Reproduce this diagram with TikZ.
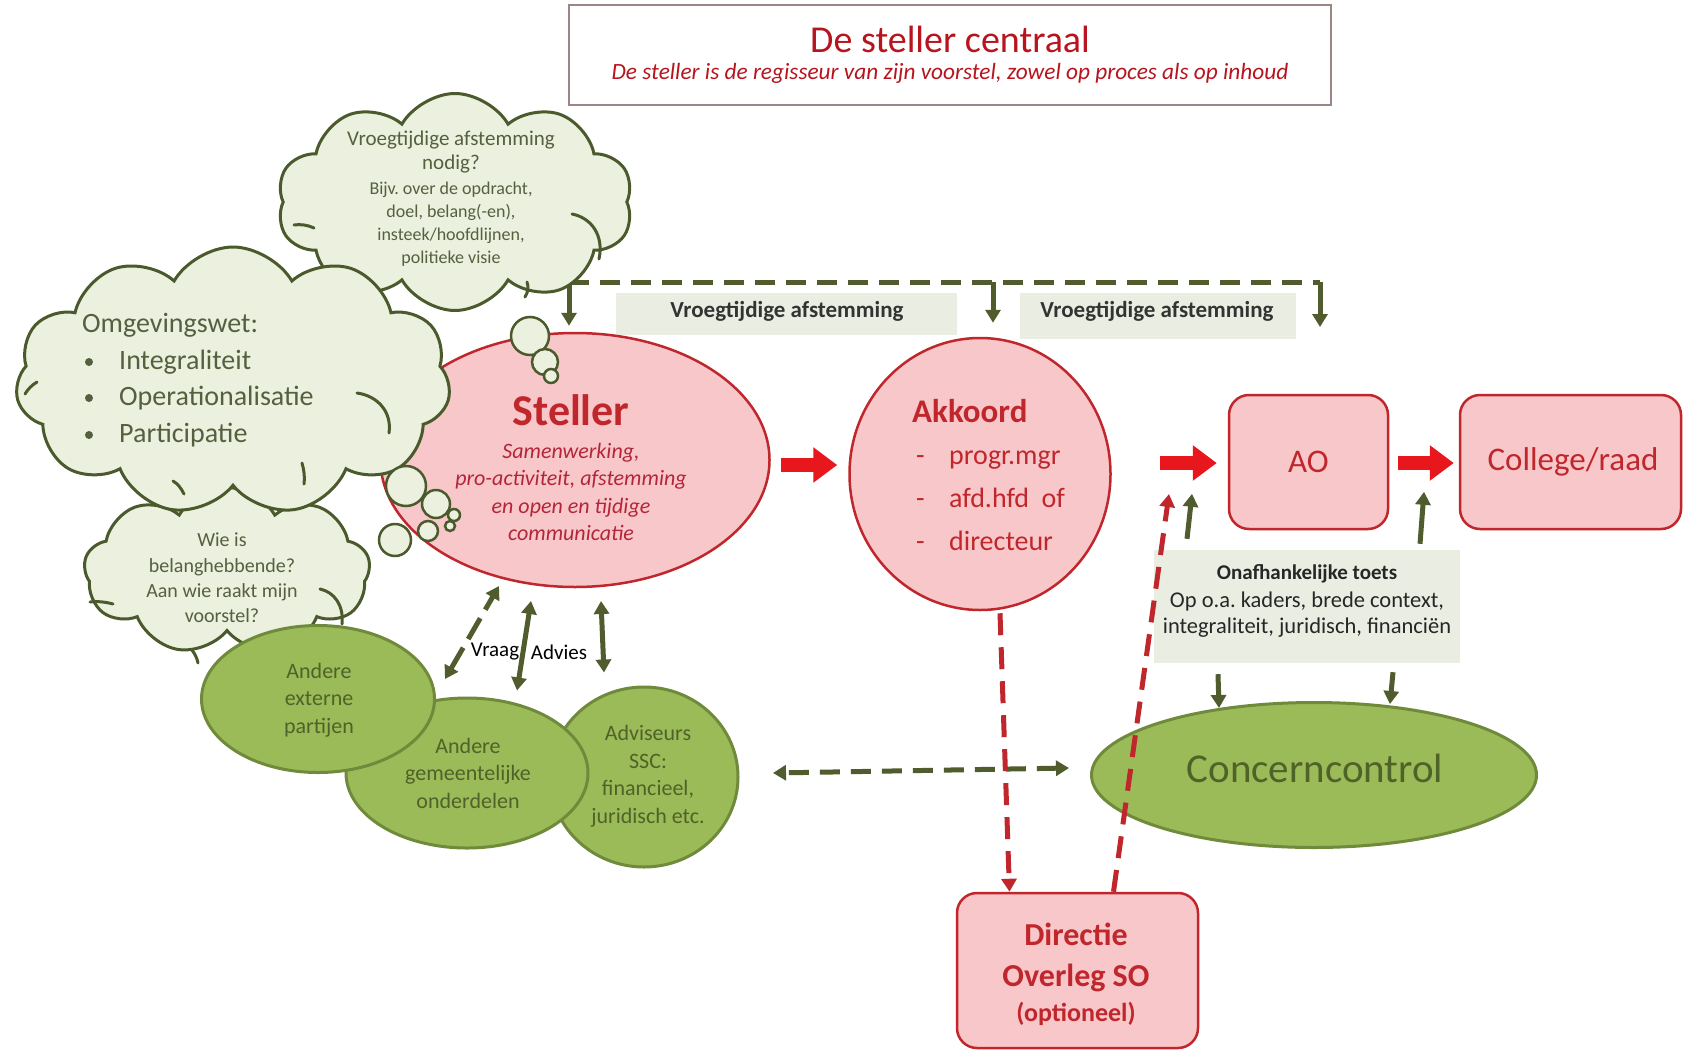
\documentclass[tikz,border=0pt]{standalone}
\usepackage{fontspec}
\setmainfont{Carlito}
\usetikzlibrary{shapes.geometric,shapes.symbols,arrows.meta,calc}

\definecolor{cred}{HTML}{C0272D}
\definecolor{ctitle}{HTML}{B8141E}
\definecolor{cpink}{HTML}{F8C7CA}
\definecolor{cgfill}{HTML}{9BBB59}
\definecolor{cgline}{HTML}{6F8A3A}
\definecolor{cgtext}{HTML}{4F6228}
\definecolor{cloudfill}{HTML}{EBF0DF}
\definecolor{cloudline}{HTML}{4B5A2C}
\definecolor{cloudtext}{HTML}{55603F}
\definecolor{garrow}{HTML}{505B2E}
\definecolor{boxfill}{HTML}{EAEEE2}
\definecolor{blockred}{HTML}{E8161D}
\definecolor{titleline}{HTML}{9C8585}
\definecolor{steltext}{HTML}{B3263A}

\newcommand\fsz[2]{\fontsize{#1pt}{#2pt}\selectfont}

\begin{document}
\begin{tikzpicture}[x=1pt,y=-1pt,
  pinkoval/.style={ellipse, draw=cred, fill=cpink, line width=2.5pt, inner sep=0pt},
  pinkbox/.style={rectangle, rounded corners=20pt, draw=cred, fill=cpink, line width=2.5pt, inner sep=0pt},
  greenoval/.style={ellipse, draw=cgline, fill=cgfill, line width=3pt, inner sep=0pt},
  thought/.style={cloud, draw=cloudline, fill=cloudfill, line width=3pt, cloud puffs=10, cloud puff arc=120, inner sep=0pt},
  fold/.style={draw=cloudline, line width=3pt, line cap=round},
  bubble/.style={circle, draw=cloudline, fill=cloudfill, line width=2.5pt, inner sep=0pt},
  greybox/.style={rectangle, fill=boxfill, inner sep=0pt},
  lbl/.style={inner sep=0pt, align=center},
  gtext/.style={lbl, text=cgtext, font=\fsz{22}{27.5}},
  ctext/.style={lbl, text=cloudtext},
  garr/.style={draw=garrow, line width=5pt, -{Triangle[width=15pt,length=13pt]}},
  gdash/.style={draw=garrow, line width=5pt, dash pattern=on 20pt off 11pt},
  rdash/.style={draw=cred, line width=5pt, dash pattern=on 22pt off 12pt, -{Triangle[width=15pt,length=13pt]}},
  blockarr/.style={draw=blockred, line width=14pt, -{Triangle[width=34pt,length=24pt]}},
  dot/.style={circle, fill=cloudtext, inner sep=0pt, minimum size=8pt}
]
\useasboundingbox (0,0) rectangle (1683,1052);
\fill[white] (0,0) rectangle (1683,1052);

% heading
\node[rectangle, draw=titleline, line width=1.5pt, fill=white, minimum width=762pt, minimum height=100pt] (title) at (950,55) {};
\node[lbl, text=ctitle, font=\fsz{38}{40}] (titletxt) at (950,39) {De steller centraal};
\node[lbl, text=ctitle, font=\fsz{23.3}{26}\itshape] (subtxt) at (950,73) {De steller is de regisseur van zijn voorstel, zowel op proces als op inhoud};

% early alignment line along the top
\coordinate (dl) at (569,282);
\coordinate (dm) at (993,282);
\coordinate (dr) at (1320,282);
\coordinate (drend) at (1320,327);
\draw[gdash] (dl) -- (dr);

\node[greybox, minimum width=341pt, minimum height=42pt] (vroeg1) at (786,314) {};
\node[lbl, font=\fsz{23}{26}\bfseries, text=black!80] (vroeg1txt) at (787,311) {Vroegtijdige afstemming};
\node[greybox, minimum width=276pt, minimum height=46pt] (vroeg2) at (1158,316) {};
\node[lbl, font=\fsz{23}{26}\bfseries, text=black!80] (vroeg2txt) at (1157,311) {Vroegtijdige afstemming};

% main process nodes
\node[pinkoval, minimum width=389pt, minimum height=254pt] (steller) at (575,460) {};
\node[pinkoval, minimum width=261pt, minimum height=272pt] (akk) at (980,474) {};
\node[pinkbox, minimum width=159pt, minimum height=134pt] (ao) at (1308.5,462) {};
\node[pinkbox, minimum width=221pt, minimum height=134pt] (college) at (1570.5,462) {};
\node[greybox, minimum width=306pt, minimum height=113pt] (onaf) at (1307,606.5) {};
\node[greenoval, minimum width=445pt, minimum height=145pt] (concern) at (1314,775) {};
\node[pinkbox, minimum width=241pt, minimum height=155pt] (dir) at (1077.5,970.5) {};

\draw[garr] (dl) -- ($(steller.north)+(-6,-6)$);
\draw[garr] (dm) -- ($(akk.north)+(13,-14)$);
\draw[garr] (dr) -- (drend);

\node[lbl, text=cred, font=\fsz{44}{48}\bfseries] (stellertitle) at (571,410) {Steller};
\node[lbl, text=steltext, font=\fsz{22}{27.3}\itshape] (stellertxt) at (571,492) {Samenwerking,\\pro-activiteit, afstemming\\en open en tijdige\\communicatie};

\node[lbl, anchor=west, text=cred, font=\fsz{33}{36}\bfseries] (akktitle) at (912,411) {Akkoord};
\node[lbl, anchor=west, align=left, text=cred, font=\fsz{28}{43}] (akkitems) at (916,501)
  {\makebox[33pt][l]{-}progr.mgr\\\makebox[33pt][l]{-}afd.hfd\ \ of\\\makebox[33pt][l]{-}directeur};

\node[lbl, text=cred, font=\fsz{33}{36}] (aotxt) at (1308.5,462) {AO};
\node[lbl, text=cred, font=\fsz{33}{36}] (collegetxt) at (1573,462) {College/raad};

\node[lbl, font=\fsz{21}{24}\bfseries, text=black!85] (onaftitle) at (1307,574) {Onafhankelijke toets};
\node[lbl, font=\fsz{22.5}{26}, text=black!85] (onaftxt) at (1307,615) {Op o.a.\ kaders, brede context,\\integraliteit, juridisch, financiën};

\node[lbl, font=\fsz{41}{44}, text=cgtext] (concerntxt) at (1315,768) {Concerncontrol};

\node[lbl, font=\fsz{32}{41}\bfseries, text=cred] (dirtxt) at (1076,957) {Directie\\Overleg SO};
\node[lbl, font=\fsz{26}{30}\bfseries, text=cred] (diropt) at (1076,1014) {(optioneel)};

% advice line between advisers and concern control
\draw[gdash, {Triangle[width=15pt,length=13pt]}-{Triangle[width=15pt,length=13pt]}] ($(concern.west)+(-21,-7)$) -- ($(concern.west)+(-317,-2)$);

% optional route via the directors' meeting
\coordinate (rdend) at (1169,494);
\draw[rdash] ($(akk.south)+(20,2)$) -- ($(dir.north)+(-68,0)$);
\draw[rdash] ($(dir.north)+(36,0)$) -- (rdend);

% main flow
\draw[blockarr] ($(steller.east)+(10,5)$) -- ($(akk.west)+(-11,-9)$);
\draw[blockarr] ($(akk.east)+(48,-11)$) -- ($(ao.west)+(-11,1)$);
\draw[blockarr] ($(ao.east)+(9,1)$) -- ($(college.west)+(-5,1)$);

% independent check
\draw[garr] ($(onaf.north)+(-120,-11)$) -- ($(onaf.north)+(-115,-56)$);
\draw[garr] ($(onaf.north)+(113,-6)$) -- ($(onaf.north)+(117,-58)$);
\draw[garr] ($(onaf.south)+(-89,11)$) -- ($(concern.north)+(-95,7)$);
\draw[garr] ($(onaf.south)+(86,9)$) -- ($(concern.north)+(76,3)$);

% thought clouds, each with a few inner folds
\node[thought, minimum width=356pt, minimum height=217pt] (cloudA) at (455,202) {};
\draw[fold] (572,214) .. controls (592,218) and (604,236) .. (599,259);
\draw[fold] (527,282) .. controls (529,288) and (528,292) .. (525,297);
\draw[fold] (294,225) .. controls (300,224) and (308,225) .. (314,228);

\node[thought, minimum width=286pt, minimum height=167pt, cloud puffs=9] (cloudC) at (227,571) {};
\draw[fold] (320,589) .. controls (334,592) and (344,605) .. (342,624);
\draw[fold] (90,602) .. controls (97,601) and (106,602) .. (113,604);
\draw[fold] (192,650) .. controls (195,654) and (197,658) .. (198,663);

\node[thought, minimum width=435pt, minimum height=268pt, cloud puffs=11] (cloudB) at (233,381) {};
\draw[fold] (357,393) .. controls (378,396) and (392,412) .. (389,433);
\draw[fold] (302,463) .. controls (304,470) and (305,477) .. (304,484);
\draw[fold] (173,481) .. controls (178,484) and (181,488) .. (184,494);
\draw[fold] (37,382) .. controls (32,385) and (28,389) .. (25,394);

\node[bubble, minimum size=38pt] (bA1) at (530,336) {};
\node[bubble, minimum size=26pt] (bA2) at (545,362) {};
\node[bubble, minimum size=14pt] (bA3) at (551,376) {};

\node[bubble, minimum size=40pt] (bB1) at (406,486) {};
\node[bubble, minimum size=28pt] (bB2) at (436,504) {};
\node[bubble, minimum size=12pt] (bB3) at (454,515) {};
\node[bubble, minimum size=32pt] (bC1) at (395,540) {};
\node[bubble, minimum size=20pt] (bC2) at (428,531) {};
\node[bubble, minimum size=10pt] (bC3) at (450,526) {};

\node[ctext, font=\fsz{21}{24}] (cAt1) at (451,152) {Vroegtijdige afstemming\\nodig?};
\node[ctext, font=\fsz{18}{23}] (cAt2) at (451,224) {Bijv.\ over de opdracht,\\doel, belang(-en),\\insteek/hoofdlijnen,\\politieke visie};

\node[ctext, anchor=west, font=\fsz{28}{32}] (cBhead) at (82,325) {Omgevingswet:};
\node[dot] (d1) at (89,362) {};
\node[dot] (d2) at (89,398) {};
\node[dot] (d3) at (89,435) {};
\node[ctext, anchor=west, font=\fsz{28}{32}] (cBi1) at (119,362) {Integraliteit};
\node[ctext, anchor=west, font=\fsz{28}{32}] (cBi2) at (119,398) {Operationalisatie};
\node[ctext, anchor=west, font=\fsz{28}{32}] (cBi3) at (119,435) {Participatie};

\node[ctext, font=\fsz{20}{25.3}] (cCt) at (222,578) {Wie is\\belanghebbende?\\Aan wie raakt mijn\\voorstel?};

% parties around the author
\node[greenoval, minimum width=188pt, minimum height=180pt] (advis) at (644,777) {};
\node[greenoval, minimum width=242pt, minimum height=150pt] (gemeente) at (467,773) {};
\node[greenoval, minimum width=233pt, minimum height=147pt] (extern) at (318,699) {};

\node[gtext] (externtxt) at (319,700) {Andere\\externe\\partijen};
\node[gtext] (gemeentetxt) at (468,773) {Andere\\gemeentelijke\\onderdelen};
\node[gtext] (advistxt) at (648,776) {Adviseurs\\SSC:\\financieel,\\juridisch etc.};

% question and advice
\draw[gdash, dash pattern=on 24pt off 10pt, {Triangle[width=15pt,length=13pt]}-{Triangle[width=15pt,length=13pt]}] ($(extern.east)+(9,-20)$) -- ($(steller)+(-76,126)$);
\draw[garr, {Triangle[width=15pt,length=13pt]}-{Triangle[width=15pt,length=13pt]}] ($(gemeente.north)+(50,-6)$) -- ($(steller)+(-44,141)$);
\draw[garr, {Triangle[width=15pt,length=13pt]}-{Triangle[width=15pt,length=13pt]}] ($(advis.north)+(-40,-13)$) -- ($(steller)+(26,141)$);

\node[lbl, font=\fsz{21}{24}, text=black] (vraag) at (495,652) {Vraag};
\node[lbl, font=\fsz{21}{24}, text=black] (advies) at (559,652) {Advies};
\end{tikzpicture}
\end{document}
